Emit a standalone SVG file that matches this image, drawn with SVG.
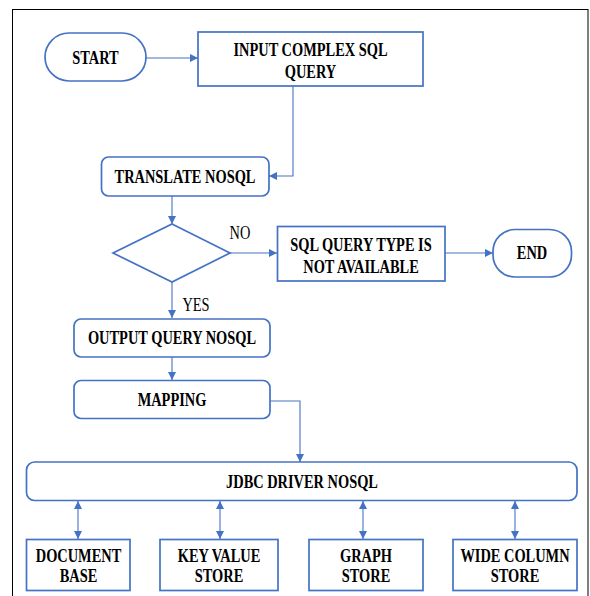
<svg xmlns="http://www.w3.org/2000/svg" width="590" height="596" viewBox="0 0 590 596">
  <defs>
    <marker id="arrow" viewBox="0 0 10 10" refX="10" refY="5" markerWidth="8" markerHeight="8" markerUnits="userSpaceOnUse" orient="auto-start-reverse">
      <path d="M0,0 L10,5 L0,10 z" fill="#4472C4"/>
    </marker>
    <style>
      .node { fill: #ffffff; stroke: #4472C4; stroke-width: 1.7; }
      .conn { fill: none; stroke: #4472C4; stroke-width: 1.1; }
      /* labels are set in a condensed Times: 18px glyphs squeezed to 80% width via transform */
      .lbl { font-family: 'Liberation Serif', 'Times New Roman', serif; font-weight: bold; font-size: 18px; fill: #000; text-anchor: middle; dominant-baseline: central; }
      .tag { font-family: 'Liberation Serif', 'Times New Roman', serif; font-size: 18px; fill: #000; text-anchor: middle; dominant-baseline: central; }
    </style>
  </defs>

  <rect x="0" y="0" width="590" height="596" fill="#ffffff"/>
  <!-- outer frame -->
  <rect x="12.5" y="9.5" width="575.5" height="610" fill="none" stroke="#000" stroke-width="1"/>

  <g id="connectors">
    <path class="conn" d="M146,58 H198" marker-end="url(#arrow)"/>
    <path class="conn" d="M293,86 V176 H269" marker-end="url(#arrow)"/>
    <path class="conn" d="M172,196 V224" marker-end="url(#arrow)"/>
    <path class="conn" d="M230,253 H277" marker-end="url(#arrow)"/>
    <path class="conn" d="M445,253 H493" marker-end="url(#arrow)"/>
    <path class="conn" d="M172,282 V318" marker-end="url(#arrow)"/>
    <path class="conn" d="M172,357 V380" marker-end="url(#arrow)"/>
    <path class="conn" d="M270,401 H300 V462" marker-end="url(#arrow)"/>
    <path class="conn" d="M78,501 V539" marker-start="url(#arrow)" marker-end="url(#arrow)"/>
    <path class="conn" d="M220,501 V539" marker-start="url(#arrow)" marker-end="url(#arrow)"/>
    <path class="conn" d="M363,501 V539" marker-start="url(#arrow)" marker-end="url(#arrow)"/>
    <path class="conn" d="M515,501 V539" marker-start="url(#arrow)" marker-end="url(#arrow)"/>
    <text class="tag" transform="translate(240,233) scale(0.8,1)">NO</text>
    <text class="tag" transform="translate(196,305) scale(0.8,1)">YES</text>
  </g>

  <g id="start">
    <rect class="node" x="45" y="33" width="101" height="48" rx="24" ry="24"/>
    <text class="lbl" transform="translate(95.5,58) scale(0.8,1)">START</text>
  </g>

  <g id="input-query">
    <rect class="node" x="198" y="32" width="225" height="54"/>
    <text class="lbl" transform="translate(310.5,50) scale(0.8,1)">INPUT COMPLEX SQL</text>
    <text class="lbl" transform="translate(310.5,72) scale(0.8,1)">QUERY</text>
  </g>

  <g id="translate">
    <rect class="node" x="101.5" y="157" width="167.5" height="39" rx="7" ry="7"/>
    <text class="lbl" transform="translate(185,177) scale(0.8,1)">TRANSLATE NOSQL</text>
  </g>

  <g id="decision">
    <polygon class="node" points="172,224 230,253 172,282 113,253"/>
  </g>

  <g id="not-available">
    <rect class="node" x="277.5" y="226.5" width="167.5" height="54.5"/>
    <text class="lbl" transform="translate(361,245) scale(0.8,1)">SQL QUERY TYPE IS</text>
    <text class="lbl" transform="translate(361,267) scale(0.8,1)">NOT AVAILABLE</text>
  </g>

  <g id="end">
    <rect class="node" x="493" y="229.5" width="78.5" height="47.5" rx="22" ry="22"/>
    <text class="lbl" transform="translate(532,253) scale(0.8,1)">END</text>
  </g>

  <g id="output-query">
    <rect class="node" x="74" y="319" width="196" height="38" rx="7" ry="7"/>
    <text class="lbl" transform="translate(172,338) scale(0.8,1)">OUTPUT QUERY NOSQL</text>
  </g>

  <g id="mapping">
    <rect class="node" x="74" y="380.5" width="196" height="38" rx="7" ry="7"/>
    <text class="lbl" transform="translate(172,400) scale(0.8,1)">MAPPING</text>
  </g>

  <g id="jdbc-driver">
    <rect class="node" x="26.5" y="462" width="550.5" height="38.5" rx="8" ry="8"/>
    <text class="lbl" transform="translate(302,482) scale(0.8,1)">JDBC DRIVER NOSQL</text>
  </g>

  <g id="document-base">
    <rect class="node" x="26.5" y="539.5" width="103.5" height="51"/>
    <text class="lbl" transform="translate(78.5,556) scale(0.8,1)">DOCUMENT</text>
    <text class="lbl" transform="translate(78.5,576) scale(0.8,1)">BASE</text>
  </g>

  <g id="key-value-store">
    <rect class="node" x="160" y="539.5" width="118" height="51"/>
    <text class="lbl" transform="translate(219,556) scale(0.8,1)">KEY VALUE</text>
    <text class="lbl" transform="translate(219,576) scale(0.8,1)">STORE</text>
  </g>

  <g id="graph-store">
    <rect class="node" x="309" y="539.5" width="114" height="51"/>
    <text class="lbl" transform="translate(366,556) scale(0.8,1)">GRAPH</text>
    <text class="lbl" transform="translate(366,576) scale(0.8,1)">STORE</text>
  </g>

  <g id="wide-column-store">
    <rect class="node" x="453" y="539.5" width="124" height="51"/>
    <text class="lbl" transform="translate(515,556) scale(0.8,1)">WIDE COLUMN</text>
    <text class="lbl" transform="translate(515,576) scale(0.8,1)">STORE</text>
  </g>
</svg>
